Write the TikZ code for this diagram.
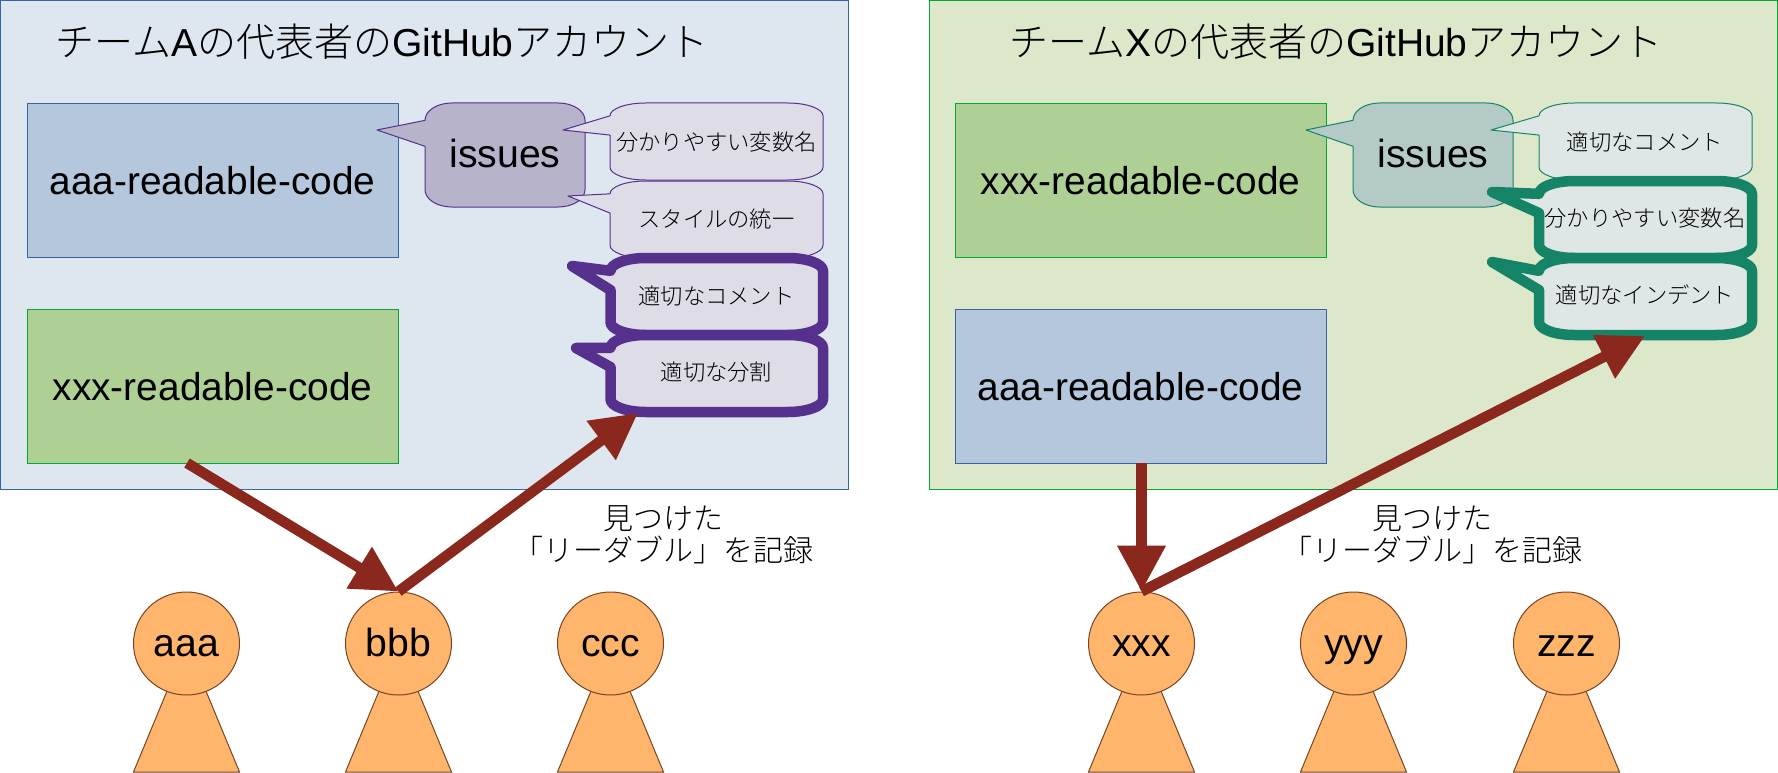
\documentclass[tikz,border=0pt]{standalone}
\usepackage{fontspec}
\setmainfont{Liberation Sans}
\newfontfamily\cjk{Noto Sans CJK JP Light}
\usetikzlibrary{arrows.meta,shapes.geometric}
\definecolor{panelblue}{HTML}{DEE6EF}
\definecolor{panelgreen}{HTML}{DDE8CB}
\definecolor{boxblue}{HTML}{B4C7DC}
\definecolor{boxgreen}{HTML}{AFD095}
\definecolor{lineblue}{HTML}{3465A4}
\definecolor{linegreen}{HTML}{00A933}
\definecolor{purpleline}{HTML}{55308D}
\definecolor{purplefill}{HTML}{B7B3CA}
\definecolor{purplelight}{HTML}{DEDCE6}
\definecolor{tealline}{HTML}{158466}
\definecolor{tealfill}{HTML}{B3CAC7}
\definecolor{teallight}{HTML}{DEE7E5}
\definecolor{arrowred}{HTML}{8B281E}
\definecolor{personfill}{HTML}{FFB66C}
\definecolor{personline}{HTML}{784421}
\newcommand\bigfont{\fontsize{39.2pt}{44pt}\selectfont}
\newcommand\titlefont{\fontsize{39pt}{44pt}\selectfont}
\newcommand\repofont{\fontsize{38.85pt}{44pt}\selectfont}
\newcommand\smallfont{\fontsize{22.3pt}{27pt}\selectfont}
\newcommand\midfont{\fontsize{30pt}{32pt}\selectfont}
% style, x0, y0, x1, y1, tip x, tip y
\newcommand\bubble[7]{%
  \pgfmathsetmacro\bRx{(#4-#2)/6}\pgfmathsetmacro\bRy{(#5-#3)/6}%
  \pgfmathsetmacro\bXa{#2+\bRx}\pgfmathsetmacro\bXb{#4-\bRx}%
  \pgfmathsetmacro\bYa{#3+\bRy}\pgfmathsetmacro\bYb{#5-\bRy}%
  \pgfmathsetmacro\bYm{#3+2.5*\bRy}%
  \pgfmathsetmacro\bKx{.4477*\bRx}\pgfmathsetmacro\bKy{.4477*\bRy}%
  \pgfmathsetmacro\bXc{#2+\bKx}\pgfmathsetmacro\bXd{#4-\bKx}%
  \pgfmathsetmacro\bYc{#3+\bKy}\pgfmathsetmacro\bYd{#5-\bKy}%
  \draw[#1] (#2,\bYa) .. controls (#2,\bYc) and (\bXc,#3) .. (\bXa,#3)
    -- (\bXb,#3) .. controls (\bXd,#3) and (#4,\bYc) .. (#4,\bYa)
    -- (#4,\bYb) .. controls (#4,\bYd) and (\bXd,#5) .. (\bXb,#5)
    -- (\bXa,#5) .. controls (\bXc,#5) and (#2,\bYd) .. (#2,\bYb)
    -- (#2,\bYm) -- (#6,#7) -- cycle;}
\tikzset{
  x=1pt,y=-1pt,
  panelA/.style={draw=lineblue,fill=panelblue,line width=1pt,minimum width=848pt,minimum height=488.5pt,inner sep=0pt},
  panelX/.style={draw=linegreen,fill=panelgreen,line width=1pt,minimum width=848pt,minimum height=488.5pt,inner sep=0pt},
  repo/.style={line width=1pt,minimum width=371pt,minimum height=154pt,inner sep=0pt,font=\repofont,text height=29pt,text depth=0pt},
  repoblue/.style={repo,draw=lineblue,fill=boxblue},
  repogreen/.style={repo,draw=linegreen,fill=boxgreen},
  titletext/.style={anchor=base,inner sep=0pt,font=\titlefont},
  issuetext/.style={anchor=base,inner sep=0pt,font=\bigfont},
  bubbletext/.style={anchor=base,inner sep=0pt,font=\smallfont\cjk},
  issuepurple/.style={draw=purpleline,fill=purplefill,line width=1pt,line join=round},
  thinpurple/.style={draw=purpleline,fill=purplelight,line width=1pt,line join=round},
  thickpurple/.style={draw=purpleline,fill=purplelight,line width=10.5pt,line join=round},
  issueteal/.style={draw=tealline,fill=tealfill,line width=1pt,line join=round},
  thinteal/.style={draw=tealline,fill=teallight,line width=1pt,line join=round},
  thickteal/.style={draw=tealline,fill=teallight,line width=10.5pt,line join=round},
  head/.style={draw=personline,fill=personfill,line width=1pt,ellipse,minimum width=106pt,minimum height=103pt,inner sep=0pt,font=\bigfont,text height=26pt,text depth=0pt},
  body/.style={draw=personline,fill=personfill,line width=1pt,line join=miter},
  found/.style={align=center,inner sep=0pt,font=\midfont\cjk},
  bigarrow/.style={draw=arrowred,line width=10.5pt,-{Triangle[length=46pt,width=46pt]}},
}
\begin{document}
\begin{tikzpicture}
\useasboundingbox (0,0) rectangle (1778,773);
% panels
\node[panelA] (panelleft) at (424.5,244.75) {};
\node[panelX] (panelright) at (1353.5,244.75) {};
\node[titletext] (titleleft) at (382,57) {{\cjk チーム}A{\cjk の代表者の}GitHub{\cjk アカウント}};
\node[titletext] (titleright) at (1336,57) {{\cjk チーム}X{\cjk の代表者の}GitHub{\cjk アカウント}};
% repositories
\node[repoblue] (aaaL) at (212.5,180.3) {aaa-readable-code};
\node[repogreen] (xxxL) at (212.5,386.3) {xxx-readable-code};
\node[repogreen] (xxxR) at (1140.5,180.3) {xxx-readable-code};
\node[repoblue] (aaaR) at (1140.5,386.3) {aaa-readable-code};
% left issues
\bubble{issuepurple}{425}{103}{585}{207}{377}{130}
\node[issuetext] (issuesL) at (505,167.7) {issues};
\bubble{thinpurple}{610}{103}{823}{180}{563}{130}
\node[bubbletext] (l1) at (716.5,150) {分かりやすい変数名};
\bubble{thinpurple}{610}{181}{823}{258}{568}{196}
\node[bubbletext] (l2) at (716.5,227) {スタイルの統一};
\bubble{thickpurple}{610.5}{258}{823}{335}{572}{266}
\node[bubbletext] (l3) at (716.5,304) {適切なコメント};
\bubble{thickpurple}{610.5}{335}{823}{412}{576}{348}
\node[bubbletext] (l4) at (716.5,380) {適切な分割};
% right issues
\bubble{issueteal}{1353}{103}{1513}{207}{1306}{130}
\node[issuetext] (issuesR) at (1433,167.7) {issues};
\bubble{thinteal}{1539}{103}{1752}{180}{1491}{130}
\node[bubbletext] (r1) at (1645,150) {適切なコメント};
\bubble{thickteal}{1539}{181}{1752}{258}{1492}{192}
\node[bubbletext] (r2) at (1645,226) {分かりやすい変数名};
\bubble{thickteal}{1539}{258}{1752}{335}{1492}{262}
\node[bubbletext] (r3) at (1645,303) {適切なインデント};
% captions
\node[found] (foundL) at (663.5,535) {見つけた\\「リーダブル」を記録};
\node[found] (foundR) at (1432.5,535) {見つけた\\「リーダブル」を記録};
% people
\foreach \nm/\cx in {aaa/186.5,bbb/398.5,ccc/610.5,xxx/1141.5,yyy/1353.5,zzz/1566.5}{
  \draw[body] (\cx,644) -- ({\cx-53},772) -- ({\cx+53},772) -- cycle;
  \node[head] (\nm) at (\cx,643.5) {\nm};
}
% connectors
\coordinate (startL) at (187,463);
\coordinate (endL) at (638,413);
\coordinate (startR) at (1141.5,463);
\coordinate (endR) at (1645,336);
\draw[bigarrow] (startL) -- (bbb.north);
\draw[bigarrow] (bbb.north) -- (endL);
\draw[bigarrow] (startR) -- (xxx.north);
\draw[bigarrow] (xxx.north) -- (endR);
\end{tikzpicture}
\end{document}
